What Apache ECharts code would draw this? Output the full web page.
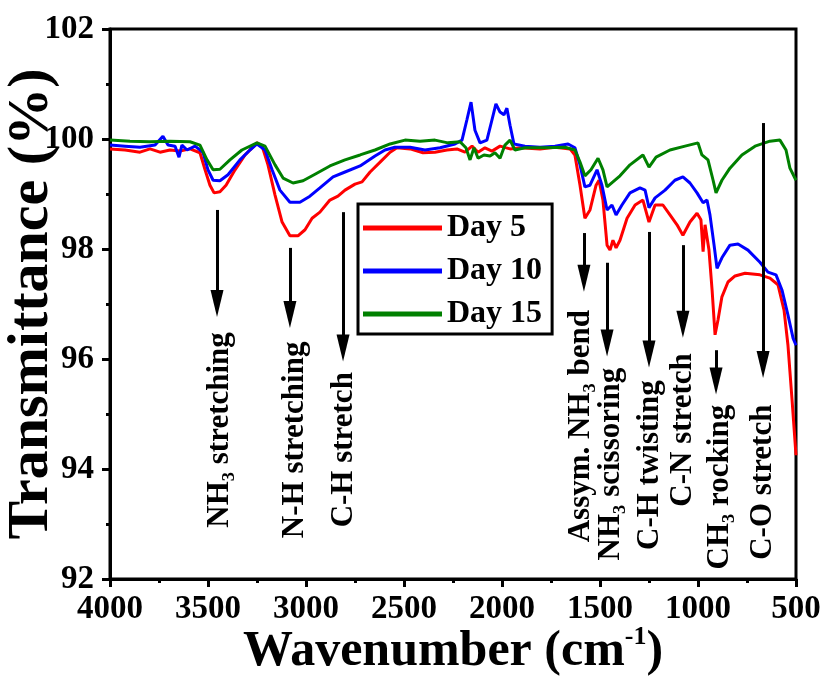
<!DOCTYPE html>
<html>
<head>
<meta charset="utf-8">
<script src="https://cdn.jsdelivr.net/npm/echarts@6/dist/echarts.min.js"></script>
<style>
  html, body { margin: 0; padding: 0; background: #fff; }
  #chart { width: 824px; height: 686px; }
</style>
</head>
<body>
<div id="chart"></div>
<script>
// FTIR spectra, [wavenumber, transmittance]
const day5 = [
  [4000, 99.82], [3923, 99.80], [3847, 99.76], [3796, 99.82], [3745, 99.76], [3694, 99.80],
  [3643, 99.78], [3592, 99.82], [3541, 99.75], [3515, 99.44], [3490, 99.16], [3469, 99.02],
  [3439, 99.04], [3408, 99.16], [3362, 99.44], [3311, 99.71], [3250, 99.93], [3224, 99.87],
  [3194, 99.53], [3158, 98.98], [3122, 98.49], [3082, 98.24], [3041, 98.24], [3005, 98.35],
  [2969, 98.56], [2929, 98.67], [2878, 98.89], [2837, 98.96], [2801, 99.07], [2750, 99.18],
  [2714, 99.22], [2673, 99.40], [2622, 99.58], [2571, 99.76], [2536, 99.84], [2469, 99.82],
  [2403, 99.75], [2342, 99.76], [2281, 99.80], [2230, 99.82], [2189, 99.76], [2153, 99.87],
  [2122, 99.76], [2087, 99.84], [2051, 99.78], [2010, 99.87], [1959, 99.82], [1908, 99.84],
  [1806, 99.82], [1730, 99.85], [1653, 99.82], [1628, 99.71], [1602, 99.16], [1577, 98.56],
  [1551, 98.71], [1520, 99.16], [1505, 99.25], [1485, 98.89], [1464, 98.07], [1449, 97.98],
  [1434, 98.16], [1418, 98.02], [1398, 98.16], [1362, 98.56], [1321, 98.80], [1281, 98.89],
  [1250, 98.49], [1219, 98.80], [1179, 98.80], [1143, 98.62], [1107, 98.44], [1077, 98.25],
  [1041, 98.49], [1005, 98.65], [985, 98.53], [974, 97.95], [964, 98.44], [944, 97.98],
  [928, 97.25], [913, 96.44], [898, 96.71], [878, 97.13], [847, 97.40], [811, 97.51],
  [760, 97.56], [684, 97.53], [633, 97.47], [592, 97.35], [561, 96.89], [541, 96.25],
  [520, 95.25], [500, 94.25]
];
const day10 = [
  [4000, 99.89], [3923, 99.87], [3847, 99.85], [3770, 99.89], [3730, 100.05], [3704, 99.89],
  [3668, 99.87], [3648, 99.67], [3633, 99.89], [3607, 99.80], [3566, 99.87], [3526, 99.76],
  [3500, 99.44], [3474, 99.25], [3439, 99.24], [3398, 99.35], [3337, 99.62], [3286, 99.80],
  [3250, 99.91], [3209, 99.80], [3173, 99.44], [3133, 99.07], [3082, 98.85], [3031, 98.85],
  [2980, 98.96], [2929, 99.11], [2862, 99.31], [2801, 99.40], [2724, 99.51], [2648, 99.69],
  [2597, 99.80], [2546, 99.85], [2469, 99.85], [2393, 99.80], [2316, 99.84], [2240, 99.91],
  [2204, 99.98], [2179, 100.35], [2158, 100.67], [2138, 100.16], [2112, 99.93], [2077, 99.98],
  [2051, 100.35], [2031, 100.64], [2010, 100.49], [1990, 100.44], [1975, 100.56], [1959, 100.25],
  [1939, 99.91], [1883, 99.87], [1806, 99.85], [1730, 99.87], [1663, 99.91], [1628, 99.84],
  [1602, 99.53], [1577, 99.13], [1551, 99.16], [1515, 99.44], [1490, 99.16], [1464, 98.71],
  [1439, 98.80], [1418, 98.62], [1388, 98.80], [1347, 99.02], [1296, 99.11], [1270, 99.07],
  [1250, 98.75], [1219, 98.93], [1168, 99.07], [1118, 99.25], [1077, 99.31], [1041, 99.20],
  [1005, 99.02], [974, 98.84], [954, 98.89], [939, 98.62], [918, 98.07], [903, 97.65],
  [878, 97.84], [837, 98.07], [796, 98.09], [745, 97.98], [684, 97.76], [643, 97.58],
  [602, 97.53], [571, 97.25], [541, 96.80], [515, 96.38], [500, 96.25]
];
const day15 = [
  [4000, 99.98], [3898, 99.96], [3796, 99.95], [3694, 99.96], [3592, 99.95], [3541, 99.89],
  [3505, 99.62], [3474, 99.44], [3439, 99.45], [3388, 99.62], [3327, 99.80], [3250, 99.93],
  [3209, 99.87], [3158, 99.53], [3117, 99.29], [3066, 99.20], [3015, 99.24], [2954, 99.36],
  [2878, 99.51], [2801, 99.62], [2724, 99.71], [2648, 99.80], [2571, 99.91], [2495, 99.98],
  [2418, 99.96], [2342, 99.98], [2276, 99.93], [2214, 99.95], [2184, 99.84], [2163, 99.62],
  [2143, 99.84], [2122, 99.65], [2092, 99.71], [2061, 99.69], [2036, 99.75], [2010, 99.65],
  [1985, 99.89], [1959, 99.98], [1934, 99.80], [1883, 99.84], [1781, 99.84], [1679, 99.85],
  [1628, 99.80], [1602, 99.58], [1577, 99.33], [1546, 99.44], [1510, 99.65], [1485, 99.44],
  [1464, 99.13], [1434, 99.22], [1398, 99.33], [1347, 99.53], [1281, 99.71], [1250, 99.49],
  [1214, 99.67], [1143, 99.80], [1066, 99.87], [1000, 99.93], [980, 99.71], [949, 99.62],
  [923, 99.25], [908, 99.02], [878, 99.25], [837, 99.47], [776, 99.71], [709, 99.87],
  [633, 99.96], [582, 99.98], [551, 99.80], [531, 99.47], [500, 99.25]
];

// band assignments: label, wavenumber of arrow, arrow top, arrow tip, label centre (wavenumber, value)
const bandNames = ['NH₃ stretching', 'N-H stretching', 'C-H stretch', 'Assym. NH₃ bend', 'NH₃ scissoring',
  'C-H twisting', 'C-N stretch', 'CH₃ rocking', 'C-O stretch'];
const arrowAt = [3454, 3082, 2811, 1582, 1464, 1250, 1077, 908, 668];
const arrowTop = [98.71, 98.02, 98.67, 98.29, 97.75, 98.31, 98.07, 96.16, 100.29];
const arrowTip = [96.76, 96.56, 95.95, 97.22, 96.04, 95.84, 96.38, 95.35, 95.65];
const labelAt = [3439, 3056, 2806, 1597, 1444, 1245, 1077, 888, 668];
const labelVal = [94.71, 94.53, 94.35, 94.78, 94.09, 94.07, 94.71, 93.67, 93.76];

const serif = "'Liberation Serif', 'Times New Roman', serif";
const headLen = 0.25; // arrowhead half length in data units

const chart = echarts.init(document.getElementById('chart'));

const arrows = arrowAt.map((w, i) => [
  { coord: [w, arrowTop[i]] },
  { coord: [w, arrowTip[i] + headLen] },
]);
const bandLabels = bandNames.map((name, i) => ({
  coord: [labelAt[i], labelVal[i]],
  value: name,
}));

function spectrum(name, data, color, extra) {
  return Object.assign({
    name, type: 'line', data,
    showSymbol: false, symbol: 'none',
    lineStyle: { color, width: 3 },
    itemStyle: { color },
    emphasis: { disabled: true },
    animation: false,
  }, extra || {});
}

chart.setOption({
  animation: false,
  grid: {
    left: 110, top: 29, width: 686, height: 550,
    outerBoundsMode: 'none', containLabel: false,
    show: true, borderColor: '#000', borderWidth: 3, backgroundColor: 'transparent',
  },
  legend: {
    orient: 'vertical', left: 358, top: 204,
    padding: [8, 10, 4, 5],
    itemWidth: 79, itemHeight: 5, itemGap: 11, itemTextGap: 8,
    icon: 'rect',
    backgroundColor: '#fff', borderColor: '#000', borderWidth: 3,
    textStyle: { fontFamily: serif, fontWeight: 'bold', fontSize: 32, color: '#000' },
    data: ['Day 5', 'Day 10', 'Day 15'],
  },
  xAxis: {
    type: 'value', inverse: true, min: 500, max: 4000, interval: 500,
    name: '{a|Wavenumber (cm}{b|-1}{a|)}',
    nameLocation: 'middle', nameGap: 45, nameMoveOverlap: false,
    nameTextStyle: {
      rich: {
        a: { fontFamily: serif, fontWeight: 'bold', fontSize: 50, color: '#000', lineHeight: 56 },
        b: { fontFamily: serif, fontWeight: 'bold', fontSize: 26, color: '#000', lineHeight: 30, verticalAlign: 'top' },
      },
    },
    axisLine: { lineStyle: { color: '#000', width: 3 } },
    axisTick: { length: 8, lineStyle: { width: 3, color: '#000' } },
    minorTick: { show: true, splitNumber: 2, length: 4, lineStyle: { width: 3, color: '#000' } },
    splitLine: { show: false },
    axisLabel: {
      fontFamily: serif, fontWeight: 'bold', fontSize: 33, color: '#000', margin: 14,
      formatter: (v) => String(v),
    },
  },
  yAxis: {
    type: 'value', min: 92, max: 102, interval: 2,
    name: 'Transmittance (%)',
    nameLocation: 'middle', nameGap: 49, nameMoveOverlap: false,
    nameTextStyle: { fontFamily: serif, fontWeight: 'bold', fontSize: 58, color: '#000' },
    axisLine: { lineStyle: { color: '#000', width: 3 } },
    axisTick: { length: 8, lineStyle: { width: 3, color: '#000' } },
    minorTick: { show: true, splitNumber: 2, length: 4, lineStyle: { width: 3, color: '#000' } },
    splitLine: { show: false },
    axisLabel: { fontFamily: serif, fontWeight: 'bold', fontSize: 33, color: '#000', margin: 16 },
  },
  series: [
    spectrum('Day 5', day5, '#ff0000', {
      markLine: {
        silent: true, animation: false,
        symbol: ['none', 'triangle'], symbolSize: [13, 27],
        label: { show: false },
        lineStyle: { color: '#000', width: 3, type: 'solid' },
        itemStyle: { color: '#000' },
        emphasis: { disabled: true },
        data: arrows,
      },
      markPoint: {
        silent: true, animation: false,
        symbol: 'circle', symbolSize: 1,
        itemStyle: { color: 'rgba(0,0,0,0)' },
        label: {
          show: true, position: 'inside', rotate: 90,
          formatter: (p) => p.value,
          fontFamily: serif, fontWeight: 'bold', fontSize: 31, color: '#000',
        },
        data: bandLabels,
      },
    }),
    spectrum('Day 10', day10, '#0000ff'),
    spectrum('Day 15', day15, '#008000'),
  ],
});
</script>
</body>
</html>
